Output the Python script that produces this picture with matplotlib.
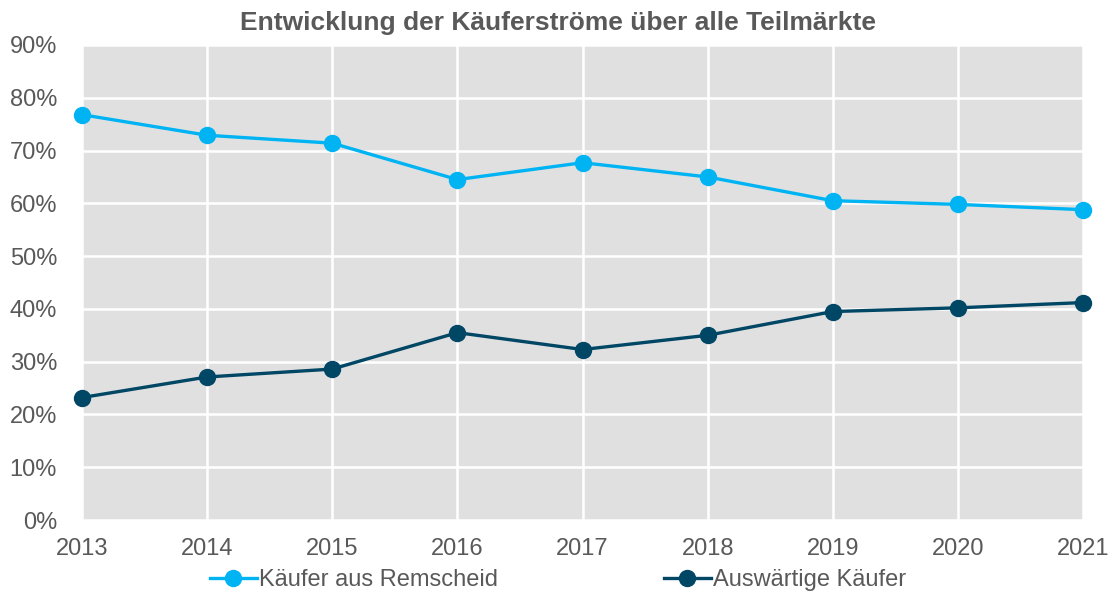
import matplotlib.pyplot as plt
from matplotlib.ticker import PercentFormatter

plt.rcParams['font.family'] = ['Liberation Sans', 'DejaVu Sans']

years = [2013, 2014, 2015, 2016, 2017, 2018, 2019, 2020, 2021]
remscheid = [76.8, 72.9, 71.4, 64.5, 67.7, 65.0, 60.5, 59.8, 58.8]
auswaertig = [23.2, 27.1, 28.6, 35.5, 32.3, 35.0, 39.5, 40.2, 41.2]

grey = '#595959'

fig = plt.figure(figsize=(11.17, 5.96), dpi=100)
ax = fig.add_axes([0.0734, 0.1275, 0.8962, 0.797])
ax.set_facecolor('#e0e0e0')

ax.plot(years, remscheid, color='#00b4f4', lw=2.4, marker='o', ms=11.5,
        label='Käufer aus Remscheid', clip_on=False, zorder=3)
ax.plot(years, auswaertig, color='#004665', lw=2.4, marker='o', ms=11.5,
        label='Auswärtige Käufer', clip_on=False, zorder=3)

ax.set_xlim(2013, 2021)
ax.set_ylim(0, 90)
ax.set_xticks(years)
ax.set_yticks(range(0, 91, 10))
ax.yaxis.set_major_formatter(PercentFormatter(decimals=0))
ax.grid(color='white', lw=1.8)
ax.set_axisbelow(True)
for s in ax.spines.values():
    s.set_visible(False)
ax.tick_params(length=0, labelsize=17, colors=grey)
ax.tick_params(axis='x', pad=13)
ax.tick_params(axis='y', pad=18)

fig.text(0.5, 0.962, 'Entwicklung der Käuferströme über alle Teilmärkte',
         ha='center', va='center', fontsize=19, fontweight='bold', color=grey)

fig.legend(loc='center', bbox_to_anchor=(0.4995, 0.027), ncol=2, frameon=False,
           fontsize=17, labelcolor=grey, columnspacing=7.0, handlelength=2.0,
           handletextpad=0.1)

fig.savefig('out.png', dpi=100)
